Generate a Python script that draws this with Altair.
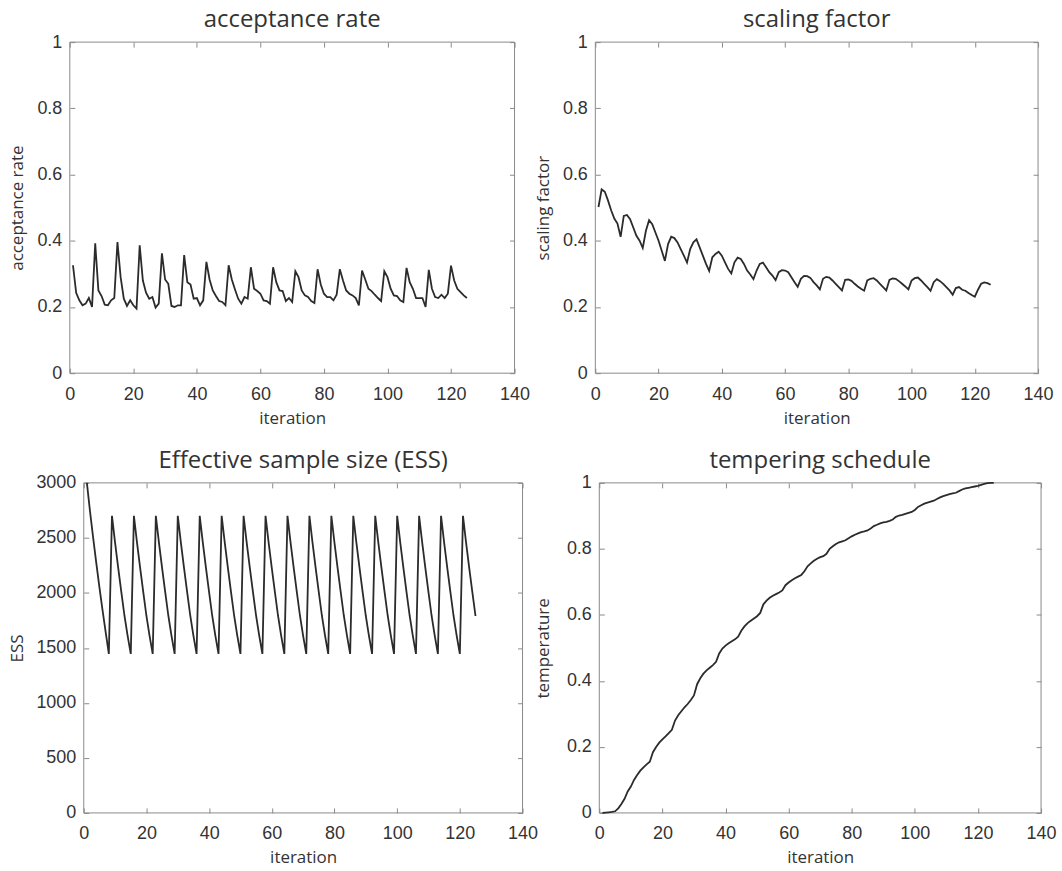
import altair as alt
import pandas as pd

iterations = list(range(1, 126))

acceptance = [0.326, 0.243, 0.22, 0.205, 0.21, 0.227, 0.2, 0.392, 0.25, 0.233,
              0.207, 0.205, 0.22, 0.227, 0.396, 0.29, 0.225, 0.203, 0.22, 0.205,
              0.195, 0.386, 0.28, 0.243, 0.225, 0.23, 0.198, 0.21, 0.362, 0.283,
              0.27, 0.203, 0.2, 0.205, 0.205, 0.357, 0.275, 0.268, 0.225, 0.227,
              0.205, 0.22, 0.336, 0.283, 0.25, 0.233, 0.218, 0.215, 0.205, 0.326,
              0.283, 0.253, 0.225, 0.21, 0.23, 0.225, 0.32, 0.255, 0.248, 0.24,
              0.22, 0.218, 0.21, 0.32, 0.275, 0.25, 0.248, 0.218, 0.227, 0.215,
              0.308, 0.29, 0.25, 0.235, 0.23, 0.218, 0.212, 0.314, 0.268, 0.24,
              0.23, 0.23, 0.22, 0.237, 0.314, 0.28, 0.25, 0.24, 0.235, 0.227,
              0.205, 0.31, 0.283, 0.255, 0.248, 0.237, 0.227, 0.218, 0.308, 0.29,
              0.255, 0.235, 0.233, 0.22, 0.215, 0.318, 0.275, 0.255, 0.227, 0.227,
              0.227, 0.2, 0.312, 0.255, 0.23, 0.227, 0.237, 0.227, 0.24, 0.325,
              0.28, 0.255, 0.245, 0.235, 0.227]

scaling = [0.502, 0.555, 0.548, 0.522, 0.492, 0.467, 0.452, 0.412, 0.475, 0.478,
           0.465, 0.44, 0.415, 0.40, 0.378, 0.43, 0.462, 0.45, 0.425, 0.40,
           0.37, 0.339, 0.39, 0.412, 0.408, 0.395, 0.375, 0.355, 0.334, 0.375,
           0.395, 0.404, 0.38, 0.355, 0.33, 0.309, 0.35, 0.36, 0.367, 0.355,
           0.335, 0.315, 0.301, 0.335, 0.349, 0.345, 0.33, 0.31, 0.298, 0.284,
           0.31, 0.33, 0.334, 0.32, 0.305, 0.295, 0.281, 0.305, 0.311, 0.31,
           0.305, 0.29, 0.275, 0.261, 0.285, 0.294, 0.293, 0.288, 0.275, 0.265,
           0.253, 0.285, 0.291, 0.289, 0.28, 0.27, 0.26, 0.25, 0.282, 0.283,
           0.279, 0.27, 0.262, 0.255, 0.249, 0.28, 0.285, 0.287, 0.28, 0.27,
           0.26, 0.25, 0.282, 0.286, 0.285, 0.278, 0.27, 0.262, 0.253, 0.28,
           0.287, 0.289, 0.28, 0.27, 0.26, 0.249, 0.275, 0.284, 0.278, 0.27,
           0.26, 0.25, 0.237, 0.257, 0.26, 0.252, 0.249, 0.242, 0.236, 0.231,
           0.252, 0.27, 0.274, 0.272, 0.267]

ess = [3000, 2740, 2500, 2270, 2050, 1840, 1640, 1445,
       2700, 2455, 2225, 2005, 1790, 1610, 1445,
       2700, 2455, 2225, 2005, 1790, 1610, 1445,
       2700, 2455, 2225, 2005, 1790, 1610, 1445,
       2700, 2455, 2225, 2005, 1790, 1610, 1445,
       2700, 2455, 2225, 2005, 1790, 1610, 1445,
       2700, 2455, 2225, 2005, 1790, 1610, 1445,
       2700, 2455, 2225, 2005, 1790, 1610, 1445,
       2700, 2455, 2225, 2005, 1790, 1610, 1445,
       2700, 2455, 2225, 2005, 1790, 1610, 1445,
       2700, 2455, 2225, 2005, 1790, 1610, 1445,
       2700, 2455, 2225, 2005, 1790, 1610, 1445,
       2700, 2455, 2225, 2005, 1790, 1610, 1445,
       2700, 2455, 2225, 2005, 1790, 1610, 1445,
       2700, 2455, 2225, 2005, 1790, 1610, 1445,
       2700, 2455, 2225, 2005, 1790, 1610, 1445,
       2700, 2455, 2225, 2005, 1790, 1610, 1445,
       2700, 2455, 2225, 2005, 1790]

temperature = [0.0, 0.001, 0.002, 0.003, 0.005, 0.014, 0.027, 0.043, 0.065, 0.08,
               0.10, 0.115, 0.128, 0.138, 0.147, 0.155, 0.184, 0.2, 0.213, 0.223,
               0.232, 0.242, 0.252, 0.28, 0.296, 0.308, 0.32, 0.33, 0.342, 0.356,
               0.39, 0.408, 0.422, 0.432, 0.44, 0.448, 0.458, 0.483, 0.498, 0.507,
               0.514, 0.52, 0.526, 0.534, 0.552, 0.565, 0.575, 0.582, 0.589, 0.596,
               0.606, 0.632, 0.643, 0.652, 0.658, 0.663, 0.668, 0.674, 0.69, 0.698,
               0.705, 0.711, 0.716, 0.721, 0.732, 0.747, 0.756, 0.764, 0.77, 0.775,
               0.778, 0.785, 0.8, 0.808, 0.815, 0.82, 0.823, 0.826, 0.832, 0.838,
               0.843, 0.847, 0.851, 0.853, 0.856, 0.862, 0.869, 0.873, 0.877, 0.88,
               0.882, 0.885, 0.889, 0.897, 0.901, 0.903, 0.906, 0.909, 0.912, 0.918,
               0.927, 0.932, 0.937, 0.94, 0.943, 0.946, 0.951, 0.956, 0.96, 0.963,
               0.966, 0.968, 0.97, 0.975, 0.98, 0.983, 0.985, 0.987, 0.989, 0.991,
               0.994, 0.997, 0.999, 1.0, 1.0]

x_ticks = [0, 20, 40, 60, 80, 100, 120, 140]
x_domain = [0, 140]
unit_ticks = [0, 0.2, 0.4, 0.6, 0.8, 1]
ess_ticks = [0, 500, 1000, 1500, 2000, 2500, 3000]

LINE = "#2b2b2b"
AXIS = "#8a8a8a"


def panel(values, field, title, ytitle, ydomain, yticks, yfmt, box_w, height, yext, shift=0):
    df = pd.DataFrame({"iteration": iterations, field: values})
    frame = pd.DataFrame({"xa": [x_domain[0]], "xb": [x_domain[1]],
                          "ya": [ydomain[0]], "yb": [ydomain[1]]})
    width = shift + box_w
    xscale = alt.Scale(domain=x_domain, range=[shift, shift + box_w], nice=False, zero=False)
    yscale = alt.Scale(domain=ydomain, nice=False, zero=False)

    box = alt.Chart(frame).mark_rect(fillOpacity=0, stroke=AXIS, strokeWidth=1).encode(
        x=alt.X("xa:Q", scale=xscale, axis=None),
        x2="xb:Q",
        y=alt.Y("ya:Q", scale=yscale, axis=None),
        y2="yb:Q",
    )
    line = alt.Chart(df).mark_line(color=LINE, strokeWidth=1.8).encode(
        x=alt.X("iteration:Q", scale=xscale,
                axis=alt.Axis(values=x_ticks, format="d", title="iteration",
                              orient="bottom", offset=-5, tickSize=5, domain=False,
                              labelFlush=False, labelPadding=12, titlePadding=7)),
        y=alt.Y(f"{field}:Q", scale=yscale,
                axis=alt.Axis(values=yticks, format=yfmt, title=ytitle,
                              orient="left", offset=-5 - shift, tickSize=5, domain=False,
                              labelFlush=False, labelPadding=8, titlePadding=6,
                              minExtent=yext, maxExtent=yext)),
    )
    mirror = alt.Chart(df).mark_line(opacity=0).encode(
        x=alt.X("iteration:Q", scale=xscale,
                axis=alt.Axis(values=x_ticks, orient="top", labels=False, title=None,
                              offset=-5, tickSize=5, domain=False,
                              minExtent=0, maxExtent=0)),
        y=alt.Y(f"{field}:Q", scale=yscale,
                axis=alt.Axis(values=yticks, orient="right", labels=False, title=None,
                              offset=-5, tickSize=5, domain=False,
                              minExtent=0, maxExtent=0)),
    )
    return alt.layer(box, line, mirror).resolve_axis(x="independent", y="independent").properties(
        width=width, height=height, title=alt.TitleParams(title, dx=shift / 2))


p1 = panel(acceptance, "acceptance", "acceptance rate", "acceptance rate", [0, 1], unit_ticks, "~g", 446, 332, 42)
p2 = panel(scaling, "scaling", "scaling factor", "scaling factor", [0, 1], unit_ticks, "~g", 444, 332, 42)
p3 = panel(ess, "ess", "Effective sample size (ESS)", "ESS", [0, 3000], ess_ticks, "d", 440, 331, 56, shift=14)
p4 = panel(temperature, "temperature", "tempering schedule", "temperature", [0, 1], unit_ticks, "~g", 443, 331, 46)

chart = alt.concat(p1, p2, p3, p4, columns=2, align="none",
                   spacing={"row": 23, "column": -4}).properties(
    padding={"left": 9, "top": 7, "right": 5, "bottom": 5},
    background="white",
).configure_view(
    stroke=None
).configure_axis(
    grid=False,
    labelFont="Liberation Sans", labelFontSize=18, labelColor="#333333",
    titleFont="Open Sans", titleFontSize=17, titleColor="#333333", titleFontWeight="normal",
    tickColor=AXIS, tickWidth=1,
).configure_title(
    font="Open Sans", fontSize=24, fontWeight="normal", color="#333333",
    anchor="middle", frame="group", baseline="alphabetic", offset=1,
)

chart.save("out.html", embed_options={"renderer": "svg", "actions": False})
